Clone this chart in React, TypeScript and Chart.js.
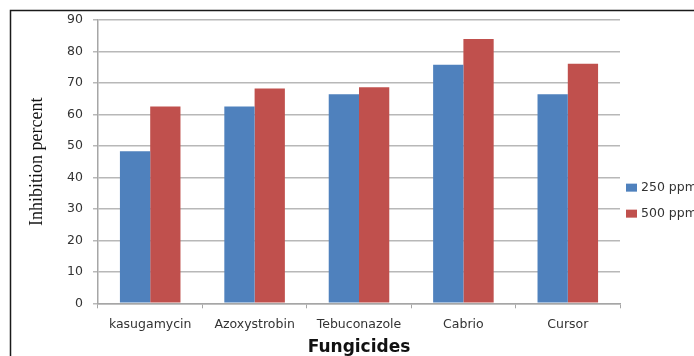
import React, { useEffect, useRef } from "react";
import { Chart, registerables } from "chart.js";

Chart.register(...registerables);

const categories = ["kasugamycin", "Azoxystrobin", "Tebuconazole", "Cabrio", "Cursor"];
const series250 = [48.3, 62.5, 66.4, 75.8, 66.4];
const series500 = [62.5, 68.2, 68.6, 84.0, 76.1];
const seriesLabels = ["250 ppm", "500 ppm"];
const seriesColors = ["#4F81BD", "#C0504D"];
const yTitle = "Inhibition percent";
const xTitle = "Fungicides";

const framePlugin = {
  id: "frame",
  beforeDraw(chart: any) {
    const ctx = chart.ctx;
    ctx.save();
    ctx.fillStyle = "#ffffff";
    ctx.fillRect(0, 0, chart.width, chart.height);
    ctx.strokeStyle = "#1a1a1a";
    ctx.lineWidth = 1.5;
    ctx.beginPath();
    ctx.moveTo(10.5, chart.height);
    ctx.lineTo(10.5, 10.5);
    ctx.lineTo(chart.width, 10.5);
    ctx.stroke();
    ctx.restore();
  },
};

const sideLegendPlugin = {
  id: "sideLegend",
  afterDraw(chart: any) {
    const ctx = chart.ctx;
    const area = chart.chartArea;
    const ds = chart.data.datasets;
    ctx.save();
    ctx.font = "12.5px 'DejaVu Sans'";
    ctx.textBaseline = "middle";
    ctx.textAlign = "left";
    const mid = (area.top + area.bottom) / 2 + 39;
    const rowGap = 26;
    ds.forEach((d: any, i: number) => {
      const y = mid + (i - (ds.length - 1) / 2) * rowGap;
      const x = area.right + 6;
      ctx.fillStyle = d.backgroundColor;
      ctx.fillRect(x, y - 4, 11, 8);
      ctx.fillStyle = "#333333";
      ctx.fillText(d.label, x + 15, y);
    });
    ctx.restore();
  },
};

export default function App() {
  const ref = useRef<HTMLCanvasElement | null>(null);
  useEffect(() => {
    document.body.style.margin = "0";
    const chart = new Chart(ref.current as HTMLCanvasElement, {
      type: "bar",
      data: {
        labels: categories,
        datasets: [
          { label: seriesLabels[0], data: series250, backgroundColor: seriesColors[0] },
          { label: seriesLabels[1], data: series500, backgroundColor: seriesColors[1] },
        ],
      },
      options: {
        responsive: true,
        maintainAspectRatio: false,
        animation: false,
        layout: { padding: { left: 12, top: 20, right: 74, bottom: 0 } },
        datasets: { bar: { categoryPercentage: 0.58, barPercentage: 1 } },
        plugins: { legend: { display: false }, tooltip: { enabled: false } },
        scales: {
          x: {
            grid: { drawOnChartArea: false, drawTicks: true, tickLength: 5, color: "#a6a6a6", offset: true },
            border: { display: true, color: "#a6a6a6", width: 1.5 },
            ticks: { font: { family: "'DejaVu Sans'", size: 12.5 }, color: "#333333", padding: 9 },
            title: {
              display: true,
              text: xTitle,
              font: { family: "'DejaVu Sans'", size: 17, weight: "bold", lineHeight: 1 },
              color: "#111111",
              padding: { top: 0, bottom: 0 },
            },
            afterFit(scale: any) {
              scale.height = 52.7;
            },
          },
          y: {
            min: 0,
            max: 90,
            ticks: { stepSize: 10, font: { family: "'DejaVu Sans'", size: 12.5 }, color: "#333333", padding: 10 },
            grid: { color: "#b8b8b8", lineWidth: 1.5, tickLength: 5, drawTicks: true },
            border: { display: true, color: "#a6a6a6", width: 1.5 },
            title: {
              display: true,
              text: yTitle,
              font: { family: "'Liberation Serif'", size: 18 },
              color: "#111111",
              padding: { top: 14, bottom: 0 },
            },
            afterFit(scale: any) {
              scale.width = 86;
            },
          },
        },
      },
      plugins: [framePlugin, sideLegendPlugin],
    } as any);
    return () => chart.destroy();
  }, []);
  return (
    <div style={{ position: "fixed", left: 0, top: 0, width: 694, height: 356 }}>
      <canvas ref={ref} />
    </div>
  );
}
